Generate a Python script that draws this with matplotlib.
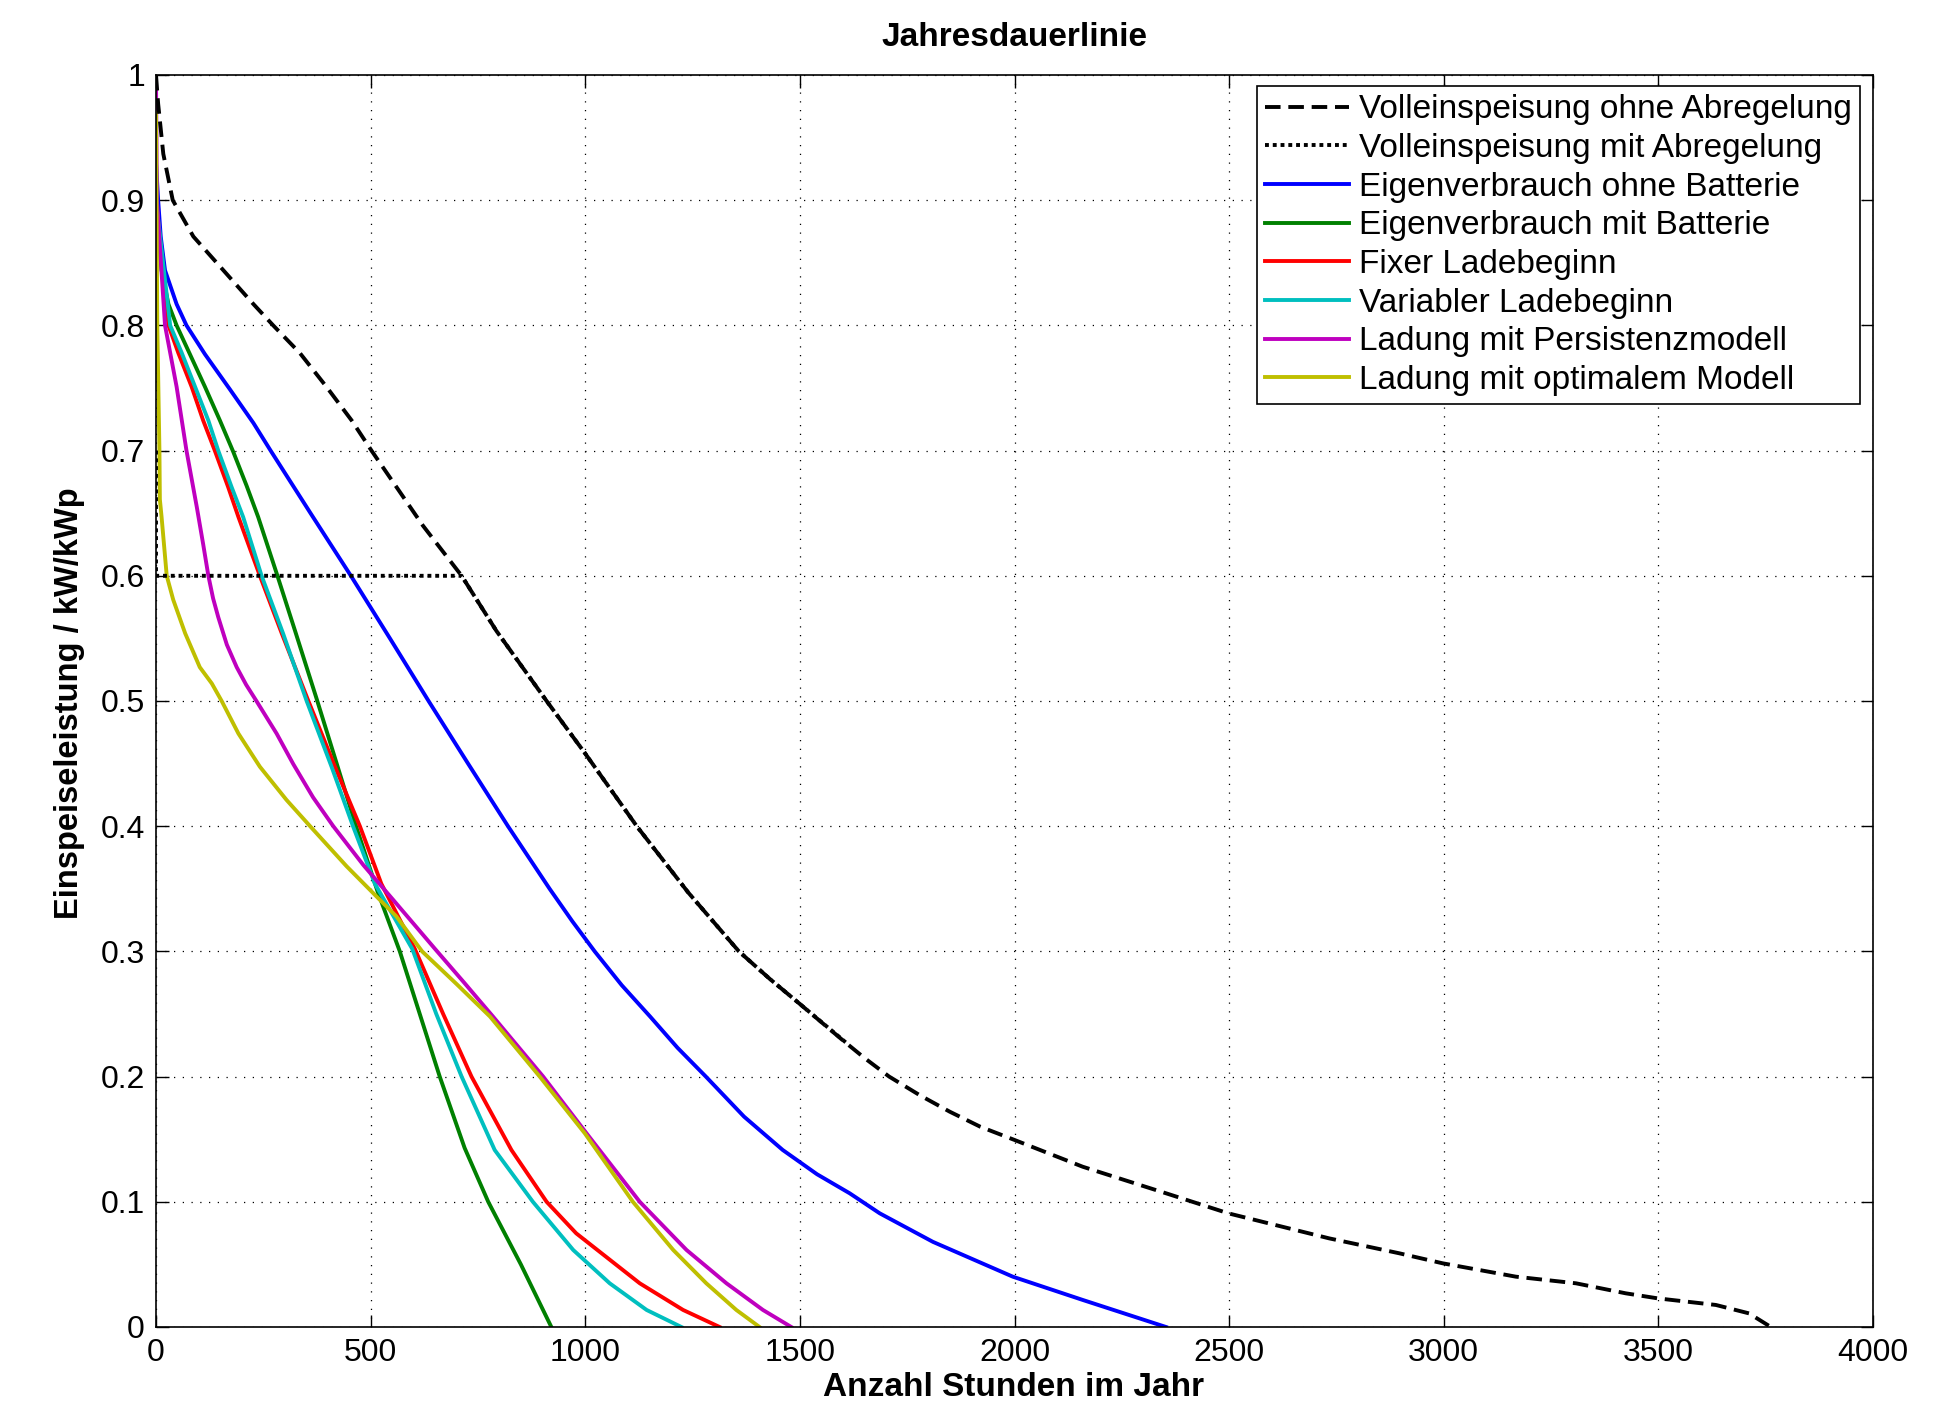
import numpy as np
import matplotlib
matplotlib.use("Agg")
import matplotlib.pyplot as plt
from matplotlib.ticker import FuncFormatter, MultipleLocator

plt.rcParams['font.family'] = ['Liberation Sans', 'DejaVu Sans']

# ---- data ----
full_x = [0, 5, 17, 39, 87, 157, 227, 273, 335, 397, 456, 502, 560, 622, 712, 793, 910, 1000,
          1120, 1240, 1358, 1430, 1500, 1600, 1650, 1708, 1780, 1849, 1920, 2000, 2159, 2353,
          2498, 2733, 2896, 2997, 3168, 3308, 3424, 3498, 3634, 3711, 3762]
full_y = [1.0, 0.977, 0.937, 0.9, 0.871, 0.844, 0.817, 0.8, 0.778, 0.751, 0.724, 0.7, 0.671, 0.64,
          0.6, 0.556, 0.5, 0.458, 0.4, 0.347, 0.3, 0.278, 0.258, 0.229, 0.215, 0.2, 0.185, 0.172,
          0.16, 0.1494, 0.128, 0.1068, 0.0908, 0.0708, 0.0589, 0.0509, 0.0402, 0.0349, 0.0269,
          0.0229, 0.0176, 0.0109, 0.0]

curt_x = [0, 0, 712, 793, 910, 1000, 1120, 1240, 1358, 1430, 1500, 1608]
curt_y = [0.7, 0.6, 0.6, 0.556, 0.5, 0.458, 0.4, 0.347, 0.3, 0.278, 0.258, 0.227]

ev_x = [0, 5, 11, 21, 48, 71, 114, 172, 227, 267, 360, 454, 545, 635, 727, 820, 917, 970, 1022,
        1085, 1151, 1215, 1281, 1370, 1460, 1540, 1616, 1686, 1810, 1996, 2159, 2353]
ev_y = [0.93, 0.9, 0.871, 0.844, 0.817, 0.8, 0.777, 0.749, 0.722, 0.7, 0.65, 0.6, 0.55, 0.5,
        0.45, 0.4, 0.35, 0.324, 0.3, 0.273, 0.248, 0.223, 0.2, 0.168, 0.1414, 0.122, 0.1068,
        0.0908, 0.068, 0.0402, 0.0216, 0.0]

evb_x = [0, 13, 29, 48, 79, 114, 149, 180, 211, 238, 281, 324, 374, 421, 466, 516, 568, 661,
         719, 774, 850, 921]
evb_y = [0.9, 0.844, 0.817, 0.8, 0.777, 0.751, 0.724, 0.699, 0.672, 0.647, 0.602, 0.556, 0.502,
         0.45, 0.4, 0.348, 0.3, 0.2, 0.143, 0.1, 0.05, 0.0]

fix_x = [0, 29, 52, 83, 110, 137, 168, 192, 242, 293, 355, 417, 475, 525, 603, 669, 735, 828,
         910, 979, 1127, 1228, 1313]
fix_y = [0.9, 0.8, 0.778, 0.751, 0.724, 0.7, 0.671, 0.647, 0.6, 0.554, 0.5, 0.4475, 0.4, 0.354,
         0.302, 0.25, 0.2, 0.1414, 0.1, 0.0748, 0.0349, 0.0136, 0.0]

var_x = [0, 33, 60, 91, 122, 145, 176, 203, 246, 296, 351, 409, 459, 510, 597, 653, 712, 789,
         878, 972, 1057, 1143, 1224]
var_y = [0.9, 0.8, 0.778, 0.751, 0.724, 0.7, 0.671, 0.647, 0.6, 0.554, 0.5, 0.4475, 0.4, 0.354,
         0.302, 0.25, 0.2, 0.1414, 0.1, 0.0615, 0.0349, 0.0136, 0.0]

pers_x = [0, 2, 21, 48, 71, 95, 110, 122, 133, 145, 165, 188, 210, 234, 281, 320, 366, 413,
          483, 553, 650, 718, 785, 902, 1003, 1127, 1236, 1329, 1414, 1480]
pers_y = [1.0, 0.9, 0.8, 0.751, 0.7, 0.655, 0.625, 0.6, 0.582, 0.567, 0.545, 0.527, 0.513,
          0.5, 0.474, 0.4495, 0.423, 0.4, 0.369, 0.341, 0.302, 0.275, 0.248, 0.2, 0.1547, 0.1,
          0.0615, 0.0349, 0.0136, 0.0]

opt_x = [0, 3, 8, 9, 13, 25, 40, 68, 102, 130, 153, 192, 242, 304, 359, 444, 522, 560, 607, 620,
         700, 778, 894, 999, 1111, 1205, 1282, 1352, 1406]
opt_y = [0.97, 0.8, 0.7, 0.661, 0.647, 0.6, 0.581, 0.554, 0.527, 0.514, 0.5, 0.474, 0.4475, 0.421,
         0.4, 0.368, 0.341, 0.328, 0.306, 0.3, 0.274, 0.248, 0.2, 0.1547, 0.1, 0.0615, 0.0349,
         0.0136, 0.0]

labels = ["Volleinspeisung ohne Abregelung", "Volleinspeisung mit Abregelung",
          "Eigenverbrauch ohne Batterie", "Eigenverbrauch mit Batterie",
          "Fixer Ladebeginn", "Variabler Ladebeginn",
          "Ladung mit Persistenzmodell", "Ladung mit optimalem Modell"]

title = "Jahresdauerlinie"
xlabel = "Anzahl Stunden im Jahr"
ylabel = "Einspeiseleistung / kW/kWp"

# ---- figure ----
W, H = 1934, 1403
fig = plt.figure(figsize=(W / 100, H / 100), dpi=100)
ax = fig.add_axes([156 / W, 1 - 1327 / H, (1873 - 156) / W, (1327 - 75) / H])

lw = 2.8
ax.plot(full_x, full_y, color='black', lw=lw, ls=(0, (4, 2)), label=labels[0], zorder=3)
ax.plot(curt_x, curt_y, color='black', lw=lw, ls=(0, (1, 1)), label=labels[1], zorder=3)
ax.plot(ev_x, ev_y, color=(0, 0, 1), lw=lw, label=labels[2])
ax.plot(evb_x, evb_y, color=(0, 0.5, 0), lw=lw, label=labels[3])
ax.plot(fix_x, fix_y, color=(1, 0, 0), lw=lw, label=labels[4])
ax.plot(var_x, var_y, color=(0, 0.75, 0.75), lw=lw, label=labels[5])
ax.plot(pers_x, pers_y, color=(0.75, 0, 0.75), lw=lw, label=labels[6])
ax.plot(opt_x, opt_y, color=(0.75, 0.75, 0), lw=lw, label=labels[7])

ax.set_xlim(0, 4000)
ax.set_ylim(0, 1)
ax.xaxis.set_major_locator(MultipleLocator(500))
ax.yaxis.set_major_locator(MultipleLocator(0.1))
ax.yaxis.set_major_formatter(FuncFormatter(lambda v, p: f"{v:g}"))
ax.tick_params(direction='in', top=True, right=True, length=9, width=1,
               labelsize=23, pad=8)
ax.grid(True, color='black', lw=0.9, ls=(0, (1, 6)))
for s in ax.spines.values():
    s.set_linewidth(1.2)

fig.text(1014 / W, 1 - 37 / H, title, ha='center', va='center', fontsize=24, fontweight='bold')
fig.text(1014 / W, 1 - 1388 / H, xlabel, ha='center', va='center', fontsize=24, fontweight='bold')
fig.text(70 / W, 1 - 703 / H, ylabel, ha='center', va='center', rotation=90,
         fontsize=23.5, fontweight='bold')

leg = ax.legend(loc='upper right', bbox_to_anchor=(1860 / W, 1 - 86 / H),
                bbox_transform=fig.transFigure, borderaxespad=0,
                fontsize=24, handlelength=2.5, handletextpad=0.3,
                labelspacing=0.23, borderpad=0.25, fancybox=False,
                framealpha=1, edgecolor='black')
leg.get_frame().set_linewidth(1.2)

fig.savefig("out.png", dpi=100)
